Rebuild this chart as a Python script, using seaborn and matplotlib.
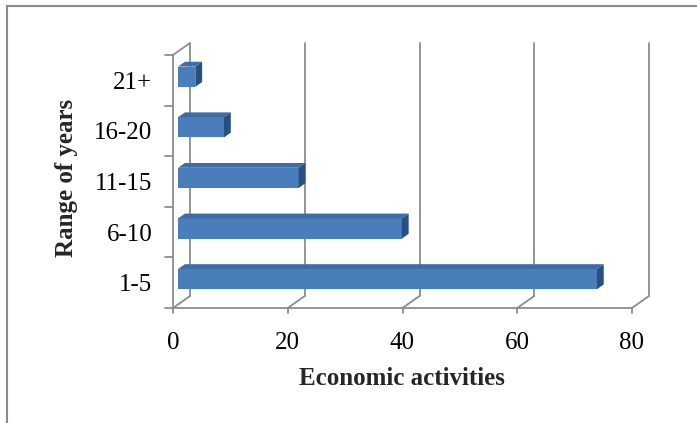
import matplotlib
matplotlib.use("Agg")
import matplotlib.pyplot as plt
from matplotlib.patches import Polygon
from matplotlib.lines import Line2D
from matplotlib.transforms import offset_copy
import seaborn as sns
import pandas as pd

# Data
year_ranges = ["21+", "16-20", "11-15", "6-10", "1-5"]
activities = [3, 8, 21, 39, 73]
x_ticks = [0, 20, 40, 60, 80]

sns.set_theme(style="white")
plt.rcParams["font.family"] = ["Liberation Serif", "DejaVu Serif"]

W, H, DPI = 697, 423, 100
fig = plt.figure(figsize=(W / DPI, H / DPI), dpi=DPI)
fig.patch.set_facecolor("white")

# front plane of the pseudo-3D plot, in pixels
x0_px, x1_px, ybot_px, ytop_px = 173, 632, 308, 55
ax = fig.add_axes([x0_px / W, (H - ybot_px) / H, (x1_px - x0_px) / W, (ybot_px - ytop_px) / H])

df = pd.DataFrame({"range": year_ranges, "value": activities})
front = "#4A7EBB"
top_c = "#3D6CA8"
side_c = "#2B4E7E"
grid_c = "#8C8C8C"

sns.barplot(data=df, x="value", y="range", order=year_ranges, orient="h",
            width=0.4, color=front, saturation=1, ax=ax, zorder=5)

ax.set_xlim(0, 80)
ax.set_ylim(4.5, -0.5)
for s in ax.spines.values():
    s.set_visible(False)
ax.set_facecolor("none")

# pixel -> data conversion
kx = 80 / (x1_px - x0_px)
ky = 5 / (ybot_px - ytop_px)
DX, DY = 17, 12          # depth of the wall, px
ddx, ddy = DX * kx, -DY * ky


def seg(xs, ys, z=1):
    ax.add_line(Line2D(xs, ys, color=grid_c, lw=1.3, zorder=z, clip_on=False))


# back wall gridlines and floor diagonals
for xv in x_ticks:
    seg([xv + ddx, xv + ddx], [4.5 + ddy, -0.5 + ddy])
    seg([xv, xv + ddx], [4.5, 4.5 + ddy])
    seg([xv, xv], [4.5, 4.5 + 5 * ky])

# front axes lines
seg([0, 80], [4.5, 4.5], 2)
seg([0, 0], [4.5, -0.5], 2)
seg([0, ddx], [-0.5, -0.5 + ddy], 2)
for i in range(6):
    yb = i - 0.5
    seg([0, -8 * kx], [yb, yb], 2)

# 3D bar faces
f, d = 0.3, 0.4
shift = offset_copy(ax.transData, fig=fig, x=f * DX, y=f * DY, units="dots")
bdx, bdy = d * DX * kx, -d * DY * ky
for p in ax.patches:
    p.set_transform(shift)
    p.set_edgecolor("none")
    xa, xb = p.get_x(), p.get_x() + p.get_width()
    yt, yb = p.get_y(), p.get_y() + p.get_height()
    ax.add_patch(Polygon([(xa, yt), (xb, yt), (xb + bdx, yt + bdy), (xa + bdx, yt + bdy)],
                         closed=True, facecolor=top_c, edgecolor="none", transform=shift, zorder=5))
    ax.add_patch(Polygon([(xb, yt), (xb, yb), (xb + bdx, yb + bdy), (xb + bdx, yt + bdy)],
                         closed=True, facecolor=side_c, edgecolor="none", transform=shift, zorder=5))

# ticks and labels
ax.set_xticks(x_ticks)
ax.set_xticklabels([str(t) for t in x_ticks])
ax.tick_params(axis="x", length=0, pad=17, labelsize=18, colors="black")
ax.tick_params(axis="y", length=0, pad=15, labelsize=18, colors="black")

ax.set_xlabel("Economic activities", fontsize=18, fontweight="bold")
ax.set_ylabel("Range of years", fontsize=18, fontweight="bold")
ax.xaxis.set_label_coords((402 - x0_px) / (x1_px - x0_px), -(378 - ybot_px) / (ybot_px - ytop_px))
ax.xaxis.label.set_va("center")
ax.yaxis.set_label_coords((66 - x0_px) / (x1_px - x0_px), 1 - (178 - ytop_px) / (ybot_px - ytop_px))
ax.yaxis.label.set_va("center")

# outer frame
fig.add_artist(Line2D([7, 697], [H - 6, H - 6], transform=None, color="#8A8A8A", lw=1.5))
fig.add_artist(Line2D([7, 7], [H - 6, 0], transform=None, color="#8A8A8A", lw=1.5))

fig.savefig("out.png", dpi=DPI)
